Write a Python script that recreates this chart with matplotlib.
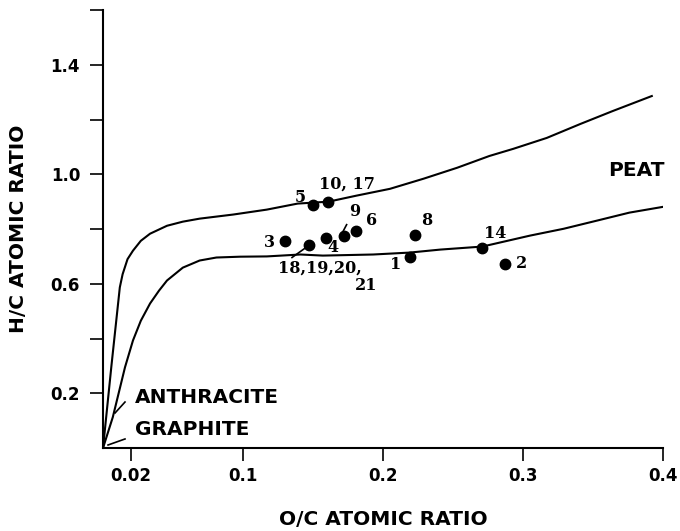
import matplotlib.pyplot as plt

# curvas limite
upper_x = [0.0, 0.006, 0.012, 0.014, 0.0175, 0.0214, 0.027, 0.0336, 0.0457, 0.057, 0.069, 0.093, 0.117,
           0.139, 0.161, 0.181, 0.205, 0.229, 0.253, 0.276, 0.293, 0.317, 0.341, 0.364, 0.392]
upper_y = [0.0, 0.30, 0.587, 0.635, 0.69, 0.721, 0.757, 0.783, 0.812, 0.827, 0.838, 0.853, 0.871,
           0.893, 0.900, 0.922, 0.947, 0.984, 1.024, 1.067, 1.093, 1.133, 1.184, 1.231, 1.286]

lower_x = [0.0, 0.007, 0.0157, 0.0214, 0.027, 0.0336, 0.04, 0.0457, 0.057, 0.069, 0.081, 0.098, 0.117,
           0.141, 0.157, 0.193, 0.219, 0.241, 0.271, 0.305, 0.329, 0.353, 0.376, 0.401]
lower_y = [0.0, 0.113, 0.295, 0.393, 0.465, 0.528, 0.575, 0.612, 0.659, 0.685, 0.696, 0.699, 0.700,
           0.707, 0.703, 0.707, 0.714, 0.725, 0.736, 0.776, 0.801, 0.831, 0.860, 0.882]

# muestras
pt_x = [0.219, 0.287, 0.130, 0.159, 0.150, 0.181, 0.223, 0.172, 0.161, 0.271, 0.147]
pt_y = [0.699, 0.674, 0.758, 0.769, 0.889, 0.794, 0.780, 0.776, 0.900, 0.729, 0.743]

# etiquetas y donde van
etiquetas = ['1', '2', '3', '4', '5', '6', '8', '9', '10, 17', '14', '18,19,20,', '21']
etq_x = [0.209, 0.299, 0.119, 0.164, 0.141, 0.192, 0.231, 0.180, 0.174, 0.280, 0.155, 0.188]
etq_y = [0.670, 0.674, 0.750, 0.732, 0.914, 0.831, 0.831, 0.863, 0.965, 0.783, 0.656, 0.594]

x_ticks = [0.02, 0.1, 0.2, 0.3, 0.4]
x_labels = ['0.02', '0.1', '0.2', '0.3', '0.4']
y_ticks = [0.2, 0.6, 1.0, 1.4]
y_minor = [0.4, 0.8, 1.2, 1.6]

fig = plt.figure(figsize=(6.8, 5.31), dpi=100)
ax = fig.add_axes([0.1515, 0.1563, 0.8235, 0.8247])

ax.plot(upper_x, upper_y, color='black', linewidth=1.5)
ax.plot(lower_x, lower_y, color='black', linewidth=1.5)
ax.plot(pt_x, pt_y, 'o', color='black', markersize=7.5)

serif = 'DejaVu Serif'
for t, x, y in zip(etiquetas, etq_x, etq_y):
    ax.text(x, y, t, ha='center', va='center', fontsize=11.5, family=serif, fontweight='bold')

# lineas guia
ax.plot([0.171, 0.174], [0.787, 0.816], color='black', linewidth=1.2)
ax.plot([0.135, 0.147], [0.696, 0.740], color='black', linewidth=1.2)
ax.plot([0.0086, 0.0157], [0.128, 0.168], color='black', linewidth=1.2)
ax.plot([0.0036, 0.0157], [0.011, 0.033], color='black', linewidth=1.2)

sans = 'DejaVu Sans'
ax.text(0.0229, 0.186, 'ANTHRACITE', ha='left', va='center', fontsize=14.5, fontweight='bold',
        family=sans)
ax.text(0.0229, 0.066, 'GRAPHITE', ha='left', va='center', fontsize=14.5, fontweight='bold',
        family=sans)
ax.text(0.381, 1.013, 'PEAT', ha='center', va='center', fontsize=14.5, fontweight='bold',
        family=sans)

ax.set_xlim(0, 0.4)
ax.set_ylim(0, 1.6)
ax.set_xticks(x_ticks)
ax.set_xticklabels(x_labels)
ax.set_yticks(y_ticks)
ax.set_yticks(y_minor, minor=True)
ax.set_yticklabels(['0.2', '0.6', '1.0', '1.4'])

for s in ['top', 'right']:
    ax.spines[s].set_visible(False)
for s in ['left', 'bottom']:
    ax.spines[s].set_linewidth(1.5)

ax.tick_params(axis='both', which='both', direction='out', length=9.5, width=1.2)
ax.tick_params(axis='x', pad=4)
ax.tick_params(axis='y', pad=7)
for lab in ax.get_xticklabels() + ax.get_yticklabels():
    lab.set_fontsize(12)
    lab.set_fontweight('bold')
    lab.set_family(sans)

ax.set_xlabel('O/C ATOMIC RATIO', fontsize=14.5, fontweight='bold', family=sans,
              labelpad=18)
ax.set_ylabel('H/C ATOMIC RATIO', fontsize=14.5, fontweight='bold', family=sans,
              labelpad=16)

plt.savefig('out.png', dpi=100)
